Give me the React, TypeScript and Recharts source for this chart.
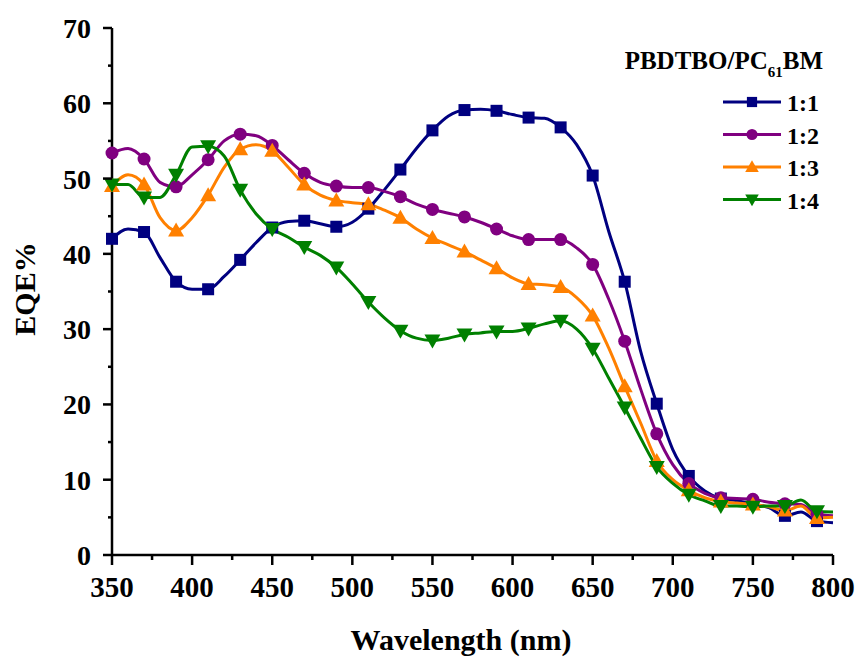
import React from 'react'
import {
  LineChart, Line, XAxis, YAxis
} from 'recharts'

const wavelengths = [
  350, 360, 370, 380, 390, 400, 410, 420, 430, 440,
  450, 460, 470, 480, 490, 500, 510, 520, 530, 540,
  550, 560, 570, 580, 590, 600, 610, 620, 630, 640,
  650, 660, 670, 680, 690, 700, 710, 720, 730, 740,
  750, 760, 770, 780, 790, 800,
]

const eqe11 = [
  42.0, 43.3, 42.9, 39.5, 36.3, 35.3, 35.3, 37.0, 39.2, 41.5,
  43.5, 44.3, 44.4, 44.0, 43.6, 44.2, 46.0, 48.5, 51.2, 54.0,
  56.4, 58.3, 59.1, 59.2, 59.0, 58.5, 58.1, 58.0, 56.8, 54.5,
  50.4, 43.0, 36.3, 27.0, 20.1, 14.0, 10.5, 8.5, 7.5, 7.2,
  6.8, 6.3, 5.2, 5.7, 4.5, 4.3,
]

const eqe12 = [
  53.4, 54.0, 52.6, 49.5, 48.9, 50.5, 52.5, 55.0, 55.9, 55.7,
  54.4, 52.5, 50.7, 49.5, 49.0, 48.8, 48.8, 48.3, 47.6, 46.6,
  45.9, 45.4, 44.9, 44.2, 43.3, 42.4, 41.9, 41.9, 41.9, 40.8,
  38.6, 34.0, 28.4, 22.0, 16.1, 12.0, 9.5, 8.2, 7.6, 7.5,
  7.4, 7.0, 6.8, 6.7, 5.4, 5.2,
]

const eqe13 = [
  49.0, 50.5, 49.2, 44.8, 43.1, 44.8, 47.8, 51.5, 53.9, 54.5,
  53.7, 51.5, 49.2, 47.8, 47.1, 46.8, 46.6, 45.8, 44.8, 43.3,
  42.1, 41.2, 40.3, 39.2, 38.1, 36.8, 36.0, 35.9, 35.6, 34.2,
  31.8, 27.5, 22.4, 17.5, 12.5, 10.0, 8.6, 7.6, 7.1, 6.9,
  6.7, 6.4, 5.9, 6.5, 4.9, 5.0,
]

const eqe14 = [
  49.2, 49.2, 47.5, 47.5, 50.5, 54.2, 54.3, 53.0, 48.5, 45.3,
  43.3, 42.2, 40.9, 39.8, 38.2, 36.0, 33.6, 31.5, 29.8, 28.8,
  28.5, 28.8, 29.3, 29.5, 29.7, 29.7, 30.1, 30.7, 31.1, 30.0,
  27.4, 23.5, 19.6, 15.5, 11.7, 9.5, 8.0, 7.2, 6.5, 6.5,
  6.4, 6.5, 6.5, 7.3, 5.8, 5.7,
]

const xTicks = [350, 375, 400, 425, 450, 475, 500, 525, 550, 575, 600, 625, 650, 675, 700, 725, 750, 775, 800]
const yTicks = [0, 5, 10, 15, 20, 25, 30, 35, 40, 45, 50, 55, 60, 65, 70]

const series = [
  { key: 'r11', name: '1:1', color: '#000080', shape: 'square', values: eqe11 },
  { key: 'r12', name: '1:2', color: '#800080', shape: 'circle', values: eqe12 },
  { key: 'r13', name: '1:3', color: '#ff8000', shape: 'up', values: eqe13 },
  { key: 'r14', name: '1:4', color: '#008000', shape: 'down', values: eqe14 },
]

const data = wavelengths.map((w, i) => {
  const row: Record<string, number> = { wl: w }
  series.forEach(s => { row[s.key] = s.values[i] })
  return row
})

const FONT = '"Liberation Serif", "Times New Roman", serif'

function Marker({ shape, cx, cy, color, size = 1 }: { shape: string; cx: number; cy: number; color: string; size?: number }) {
  const k = size
  if (shape === 'square') {
    return <rect x={cx - 6 * k} y={cy - 6 * k} width={12 * k} height={12 * k} fill={color} />
  }
  if (shape === 'circle') {
    return <circle cx={cx} cy={cy} r={6.5 * k} fill={color} />
  }
  if (shape === 'up') {
    return <polygon points={`${cx},${cy - 8 * k} ${cx + 8 * k},${cy + 6 * k} ${cx - 8 * k},${cy + 6 * k}`} fill={color} />
  }
  return <polygon points={`${cx},${cy + 8 * k} ${cx + 8 * k},${cy - 6 * k} ${cx - 8 * k},${cy - 6 * k}`} fill={color} />
}

// markers only on every other point (every 20 nm)
const makeDot = (shape: string, color: string) => (props: any) => {
  const { cx, cy, index } = props
  if (index % 2 !== 0 || cx == null || cy == null) return <g key={`d-${index}`} />
  return <g key={`d-${index}`}><Marker shape={shape} cx={cx} cy={cy} color={color} /></g>
}

const XTick = (props: any) => {
  const { x, y, payload } = props
  const major = payload.value % 50 === 0
  return (
    <g>
      <line x1={x} x2={x} y1={y} y2={y + (major ? 10 : 5)} stroke="#000" strokeWidth={2.5} />
      {major && (
        <text x={x} y={y + 42} textAnchor="middle" fontFamily={FONT} fontWeight={700} fontSize={29} fill="#000">
          {payload.value}
        </text>
      )}
    </g>
  )
}

const YTick = (props: any) => {
  const { x, y, payload } = props
  const major = payload.value % 10 === 0
  return (
    <g>
      <line x1={x} x2={x - (major ? 9 : 4)} y1={y} y2={y} stroke="#000" strokeWidth={2.5} />
      {major && (
        <text x={x - 21} y={y + 10} textAnchor="end" fontFamily={FONT} fontWeight={700} fontSize={28} fill="#000">
          {payload.value}
        </text>
      )}
    </g>
  )
}

const XTitle = () => (
  <text x={461} y={650} textAnchor="middle" fontFamily={FONT} fontWeight={700} fontSize={30} fill="#000">
    Wavelength (nm)
  </text>
)

const YTitle = () => (
  <text x={0} y={0} transform="translate(35, 289) rotate(-90)" textAnchor="middle" fontFamily={FONT} fontWeight={700} fontSize={30} fill="#000">
    EQE%
  </text>
)

const LegendBox = () => (
  <svg width={240} height={180} style={{ position: 'absolute', left: 600, top: 40, overflow: 'visible' }}>
    <text x={223} y={29} textAnchor="end" fontFamily={FONT} fontWeight={700} fontSize={25} fill="#000">
      PBDTBO/PC<tspan fontSize={15} dy={8}>61</tspan><tspan dy={-8}>BM</tspan>
    </text>
    {series.map((s, i) => {
      const ly = 62 + i * 32.5
      return (
        <g key={s.key}>
          <line x1={123} x2={181} y1={ly} y2={ly} stroke={s.color} strokeWidth={3} />
          <Marker shape={s.shape} cx={152} cy={ly} color={s.color} size={0.85} />
          <text x={187} y={ly + 9} fontFamily={FONT} fontWeight={700} fontSize={24} fill="#000">{s.name}</text>
        </g>
      )
    })}
  </svg>
)

export default function App() {
  return (
    <div style={{ position: 'absolute', left: 0, top: 0, width: 859, height: 660, background: '#fff' }}>
      <LineChart width={859} height={660} data={data} margin={{ top: 28, right: 26, left: 0, bottom: 0 }}>
        <XAxis
          dataKey="wl" type="number" domain={[350, 800]} ticks={xTicks} interval={0}
          tick={<XTick />} tickLine={false} tickSize={0} tickMargin={0} height={105}
          axisLine={{ stroke: '#000', strokeWidth: 2.5 }}
          label={<XTitle />}
        />
        <XAxis xAxisId="top" orientation="top" dataKey="wl" type="number" domain={[350, 800]} tick={false} tickLine={false} height={0} axisLine={{ stroke: '#000', strokeWidth: 2.5 }} />
        <YAxis
          type="number" domain={[0, 70]} ticks={yTicks} interval={0}
          tick={<YTick />} tickLine={false} tickSize={0} tickMargin={0} width={112}
          axisLine={{ stroke: '#000', strokeWidth: 2.5 }}
          label={<YTitle />}
        />
        <YAxis yAxisId="right" orientation="right" type="number" domain={[0, 70]} tick={false} tickLine={false} width={0} axisLine={{ stroke: '#000', strokeWidth: 2.5 }} />
        {series.map(s => (
          <Line
            key={s.key}
            dataKey={s.key}
            name={s.name}
            type="monotone"
            stroke={s.color}
            strokeWidth={3}
            dot={makeDot(s.shape, s.color)}
            activeDot={false}
            isAnimationActive={false}
          />
        ))}
      </LineChart>
      <LegendBox />
    </div>
  )
}
